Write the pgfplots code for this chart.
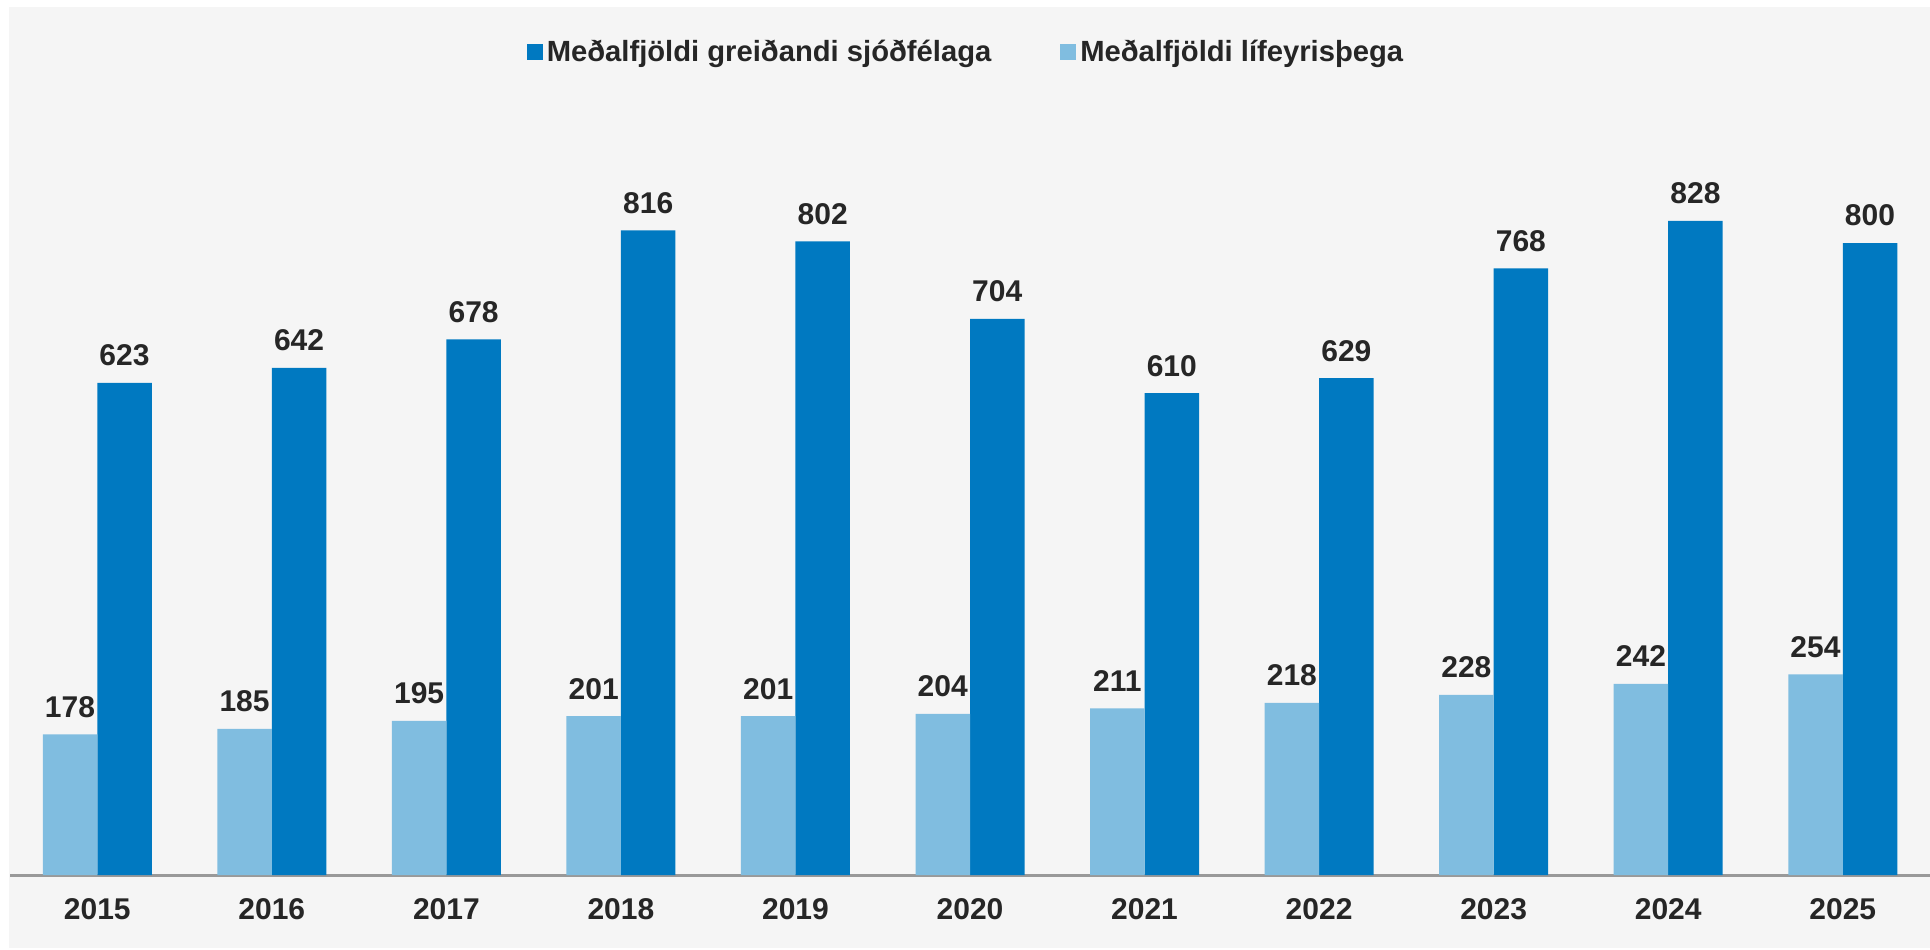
\documentclass[border=0pt]{standalone}
\usepackage{pgfplots}
\pgfplotsset{compat=1.18}
\usepackage{fontspec}
\setmainfont{Liberation Sans}
\definecolor{bg}{HTML}{F5F5F5}
\definecolor{darkb}{RGB}{0,121,193}
\definecolor{lightb}{RGB}{128,189,224}
\definecolor{txt}{HTML}{262626}
\definecolor{axisg}{HTML}{999999}
\begin{document}
\begin{tikzpicture}
\path[use as bounding box] (-5pt,-37pt) rectangle (960pt,437.5pt);
\fill[bg] (-0.5pt,-36.5pt) rectangle (960pt,434pt);
\begin{axis}[
  scale only axis, width=960pt, height=395pt,
  xmin=-0.5, xmax=10.5, ymin=0, ymax=1000,
  axis x line*=bottom, axis y line=none,
  x axis line style={draw=axisg, line width=1.5pt, -},
  clip=false,
  ybar, bar width=27.25pt,
  xtick={0,1,2,3,4,5,6,7,8,9,10},
  xticklabels={2015,2016,2017,2018,2019,2020,2021,2022,2023,2024,2025},
  xtick style={draw=none},
  xticklabel style={anchor=base, yshift=-18.2pt, text=txt, font=\bfseries\fontsize{15pt}{18pt}\selectfont},
  /pgf/number format/assume math mode=true,
  nodes near coords,
  nodes near coords style={anchor=base, yshift=8.5pt, text=txt, font=\bfseries\fontsize{15pt}{18pt}\selectfont},
  legend style={at={(0.5,1)}, anchor=center, xshift=-1.5pt, yshift=16.3pt, draw=none, fill=none,
    font=\bfseries\fontsize{14.6pt}{17pt}\selectfont, text=txt,
    /tikz/every even column/.append style={column sep=32.5pt}},
  legend columns=2,
  legend image code/.code={\fill[#1] (0pt,-4pt) rectangle (8pt,4pt);},
]
\addplot[fill=darkb, draw=none, bar shift=13.625pt] coordinates {
  (0,623) (1,642) (2,678) (3,816) (4,802) (5,704) (6,610) (7,629) (8,768) (9,828) (10,800)};
\addlegendentry{Meðalfjöldi greiðandi sjóðfélaga}
\addplot[fill=lightb, draw=none, bar shift=-13.625pt] coordinates {
  (0,178) (1,185) (2,195) (3,201) (4,201) (5,204) (6,211) (7,218) (8,228) (9,242) (10,254)};
\addlegendentry{Meðalfjöldi lífeyrisþega}
\end{axis}
\end{tikzpicture}
\end{document}
